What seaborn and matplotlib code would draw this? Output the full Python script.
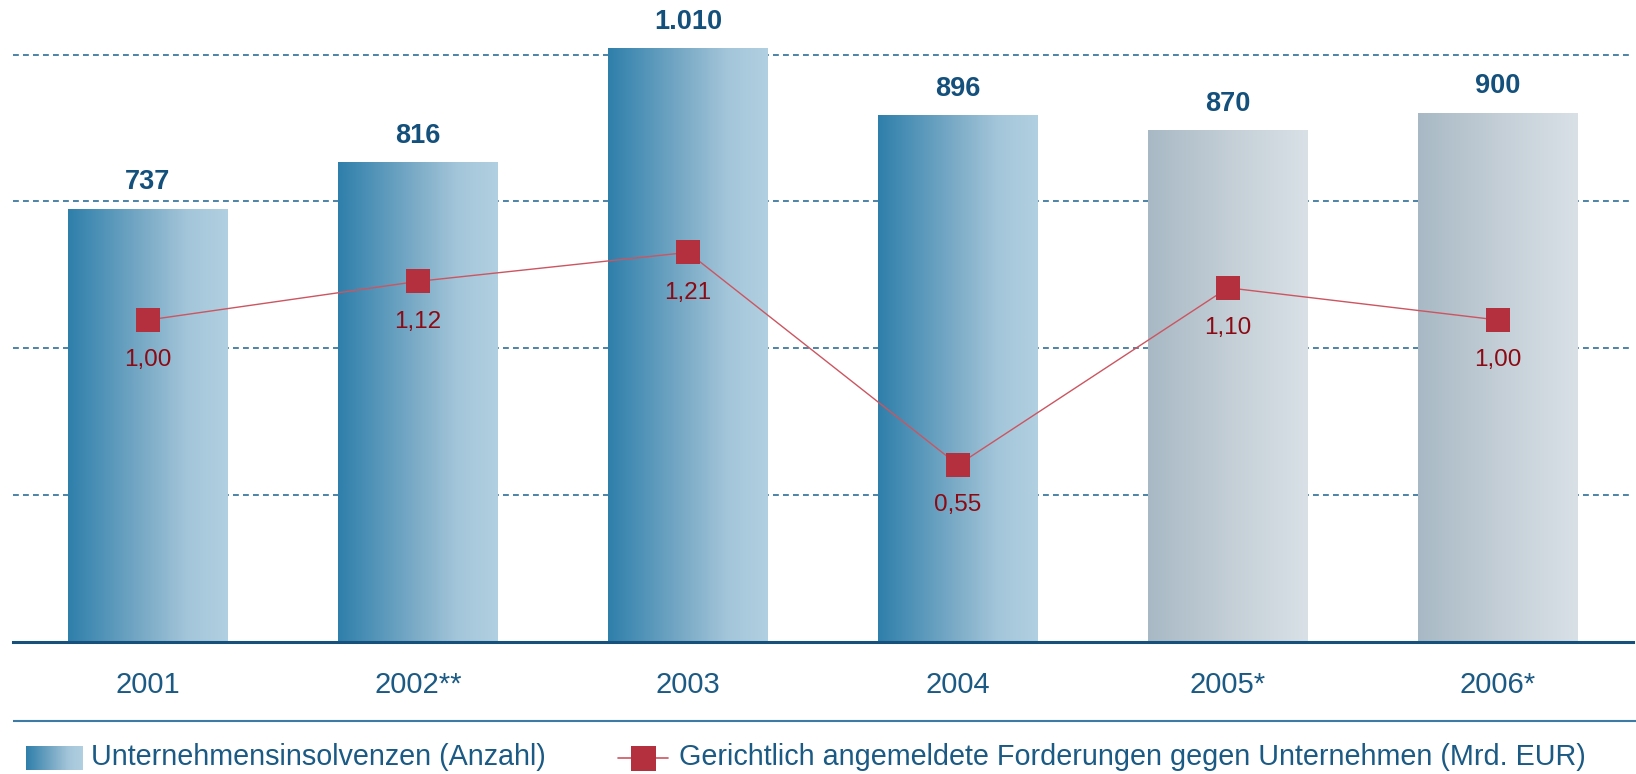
import matplotlib
matplotlib.use("Agg")
import matplotlib.pyplot as plt
from matplotlib.colors import LinearSegmentedColormap
from matplotlib.lines import Line2D
import numpy as np
import seaborn as sns

# data
years = ["2001", "2002**", "2003", "2004", "2005*", "2006*"]
insolvenzen = [737, 816, 1010, 896, 870, 900]
forderungen = [1.00, 1.12, 1.21, 0.55, 1.10, 1.00]
prognose = [False, False, False, False, True, True]

bar_label = "Unternehmensinsolvenzen (Anzahl)"
line_label = "Gerichtlich angemeldete Forderungen gegen Unternehmen (Mrd. EUR)"

# colours
text_blue = "#1b5a84"
value_blue = "#14507c"
dark_red = "#8b0a14"
marker_red = "#b5303f"
line_red = "#cc5560"
grid_blue = "#2e6e99"
base_blue = "#17507a"

blue_cmap = LinearSegmentedColormap.from_list(
    "blue_grad", [(0, "#2e7fab"), (0.5, "#7eadc8"), (0.75, "#a4c6da"), (1, "#b1d0e1")])
grey_cmap = LinearSegmentedColormap.from_list(
    "grey_grad", [(0, "#a8b9c5"), (0.5, "#c3ced6"), (1, "#d9e1e7")])
gradient = np.linspace(0, 1, 256).reshape(1, -1)

sns.set_style("white")
plt.rcParams["font.family"] = ["Liberation Sans", "DejaVu Sans"]

W, H = 1636, 774
fig = plt.figure(figsize=(W / 100, H / 100), dpi=100)

ax_left, ax_right = 13, 1633
ax_bottom_px = 642
ax = fig.add_axes([ax_left / W, (H - ax_bottom_px) / H, (ax_right - ax_left) / W, ax_bottom_px / H])
px_per_unit = 0.5875
line_px_per_unit = 322
ymax = ax_bottom_px / px_per_unit
ymax2 = ax_bottom_px / line_px_per_unit

sns.barplot(x=years, y=insolvenzen, ax=ax, width=0.59, color="#2e7fab")

# gradient fill for bars
for patch, is_prog in zip(ax.patches, prognose):
    x0, w, h = patch.get_x(), patch.get_width(), patch.get_height()
    ax.imshow(gradient, extent=[x0, x0 + w, 0, h], aspect="auto",
              cmap=grey_cmap if is_prog else blue_cmap, zorder=1)
    patch.set_facecolor("none")
    patch.set_edgecolor("none")

for i, v in enumerate(insolvenzen):
    ax.annotate(f"{v:,}".replace(",", "."), (i, v), xytext=(0, 10), textcoords="offset points",
                ha="center", va="bottom", fontsize=19.5, fontweight="bold", color=value_blue)

ax.set_xlim(-0.5, 5.5)
ax.set_ylim(0, ymax)
ax.set_yticks([250, 500, 750, 1000])
ax.set_yticklabels([])
ax.tick_params(axis="y", length=0)
ax.yaxis.grid(True, color=grid_blue, linestyle=(0, (3.5, 2.5)), linewidth=1.2)
ax.set_axisbelow(True)
ax.tick_params(axis="x", length=0, pad=21, labelsize=21, labelcolor=text_blue)
ax.set_xlabel("")
ax.set_ylabel("")
for side in ["top", "right", "left"]:
    ax.spines[side].set_visible(False)
ax.spines["bottom"].set_color(base_blue)
ax.spines["bottom"].set_linewidth(2.2)

# line on secondary axis
ax2 = ax.twinx()
sns.pointplot(x=years, y=forderungen, ax=ax2, color=marker_red, markers="s",
              errorbar=None, linewidth=1.0)
for ln in ax2.lines:
    ln.set_color(line_red)
    ln.set_markerfacecolor(marker_red)
    ln.set_markeredgecolor(marker_red)
    ln.set_markersize(17.5)
    ln.set_markeredgewidth(0)
for i, v in enumerate(forderungen):
    ax2.annotate(f"{v:.2f}".replace(".", ","), (i, v), xytext=(0, -29), textcoords="offset points",
                 ha="center", va="center", fontsize=17.5, color=dark_red)
ax2.set_xlim(-0.5, 5.5)
ax2.set_ylim(0, ymax2)
ax2.set_yticks([])
ax2.set_ylabel("")
ax2.set_xlabel("")
for side in ["top", "right", "left", "bottom"]:
    ax2.spines[side].set_visible(False)

# legend area in pixel coordinates
leg = fig.add_axes([0, 0, 1, 64 / H])
leg.set_xlim(0, W)
leg.set_ylim(H, H - 64)
leg.axis("off")
leg.plot([13, W], [721, 721], color="#3d7aa5", linewidth=1.5, solid_capstyle="butt")
leg.imshow(gradient, extent=[26, 83, 770, 746], aspect="auto", cmap=blue_cmap)
leg.text(91, 757, bar_label, ha="left", va="center", fontsize=20.7, color=text_blue)
leg.add_line(Line2D([618, 668], [758, 758], color=line_red, linewidth=1.2))
leg.add_line(Line2D([643], [758], marker="s", markersize=18, color=marker_red, markeredgewidth=0))
leg.text(679, 757, line_label, ha="left", va="center", fontsize=20.7, color=text_blue)
leg.set_xlim(0, W)
leg.set_ylim(H, H - 64)

fig.savefig("out.png", dpi=100)
